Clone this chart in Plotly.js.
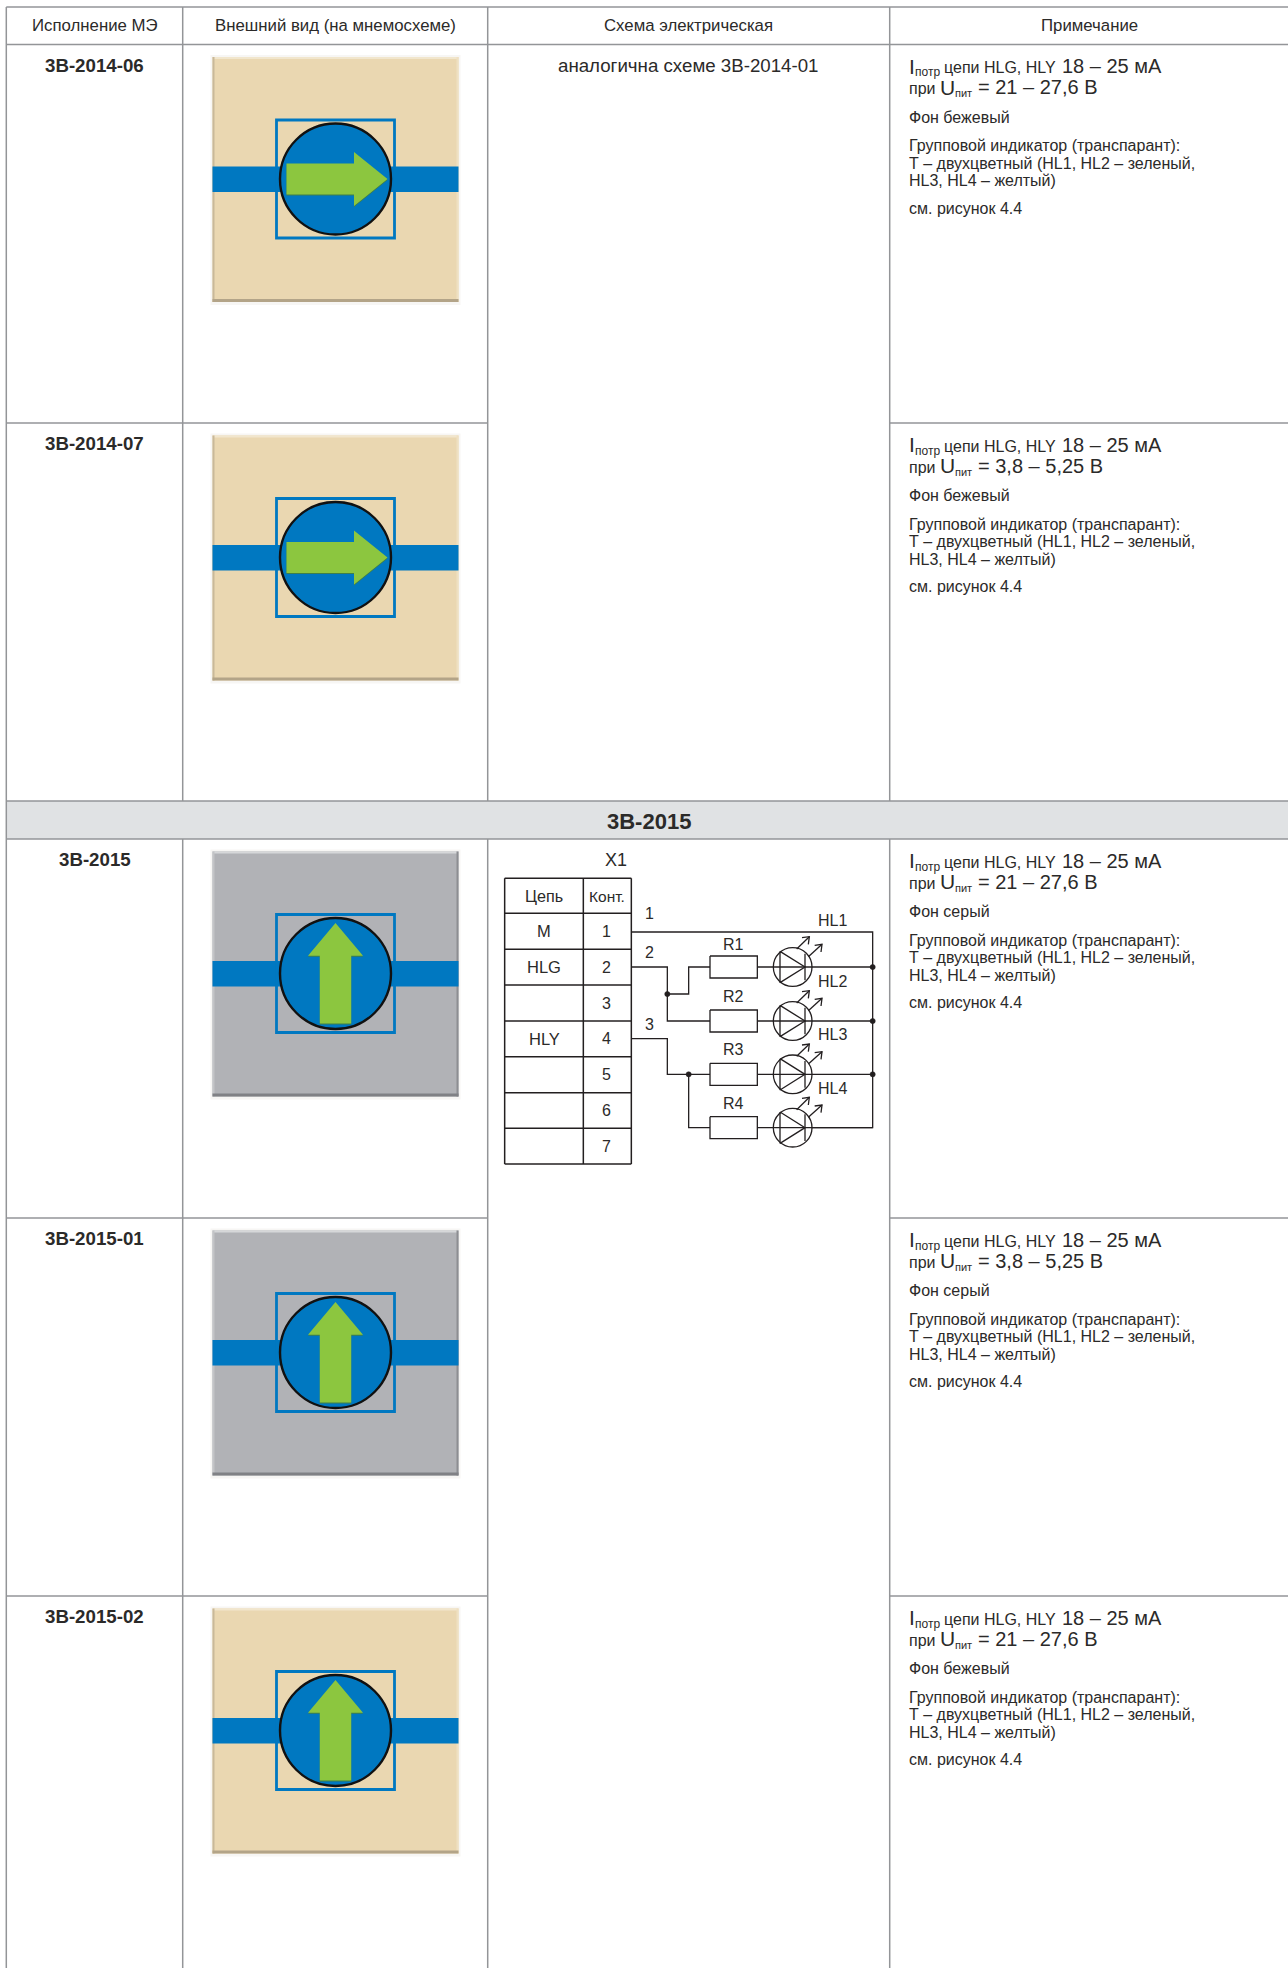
<!DOCTYPE html>
<html><head><meta charset="utf-8">
<script src="https://cdn.plot.ly/plotly-3.0.1.min.js"></script>
<style>html,body{margin:0;padding:0;background:#fff}#c{width:1288px;height:1968px}</style>
</head><body><div id="c"></div>
<script>
// ---- content ----
const headers = ["Исполнение МЭ","Внешний вид (на мнемосхеме)","Схема электрическая","Примечание"];
const rowLabels = ["3В-2014-06","3В-2014-07","3В-2015","3В-2015-01","3В-2015-02"];
const rowBackgrounds = ["Фон бежевый","Фон бежевый","Фон серый","Фон серый","Фон бежевый"];
const rowArrows = ["right","right","up","up","up"];
const rowSupplies = ["21 – 27,6 В","3,8 – 5,25 В","21 – 27,6 В","3,8 – 5,25 В","21 – 27,6 В"];
const sectionTitle = "3В-2015";
const sameSchemeNote = "аналогична схеме 3В-2014-01";
const connectorName = "X1";
const connectorHead = ["Цепь","Конт."];
const connectorNets = ["M","HLG","","HLY","","",""];
const connectorPins = ["1","2","3","4","5","6","7"];
const wireNumbers = ["1","2","3"];
const resistors = ["R1","R2","R3","R4"];
const leds = ["HL1","HL2","HL3","HL4"];
const groupNote = ["Групповой индикатор (транспарант):","Т – двухцветный (HL1, HL2 – зеленый,","HL3, HL4 – желтый)"];
const figureNote = "см. рисунок 4.4";

// ---- page geometry ----
const W=1288,H=1968;
const colX=[6.3,182.7,487.7,889.7,W];
const topY=7, headY=44.5, rowTops=[44.5,423,839,1218,1596], secTop=801, secBot=839;
const GRID="#939598", TXT="#2b2a29", LINE="#231f20", FONT="Liberation Sans, Arial, sans-serif";
const BLUE="#0078c1", GREEN="#8cc63f";
const PAL={beige:{f:"#ead7b1",b:"#b3a488",s:"#c9b899",t:"#f1e6cd",r:"#efe0c2"},gray:{f:"#b1b2b6",b:"#808185",s:"#c3c4c7",t:"#d6d7d9",r:"#8d8e92"}};

const shapes=[],ann=[],traces=[];
function rect(x0,y0,x1,y1,fill,line,lw){shapes.push({type:"rect",xref:"x",yref:"y",x0,y0,x1,y1,fillcolor:fill||"rgba(0,0,0,0)",line:{color:line||"rgba(0,0,0,0)",width:lw||0},layer:"below"});}
function circle(cx,cy,r,fill,line,lw,layer){shapes.push({type:"circle",xref:"x",yref:"y",x0:cx-r,y0:cy-r,x1:cx+r,y1:cy+r,fillcolor:fill||"rgba(0,0,0,0)",line:{color:line,width:lw},layer:layer||"below"});}
function poly(pts,fill,line,lw){shapes.push({type:"path",xref:"x",yref:"y",path:"M"+pts.map(p=>p[0]+","+p[1]).join("L")+"Z",fillcolor:fill,line:{color:line||"rgba(0,0,0,0)",width:lw||0},layer:"below"});}
function text(x,y,t,size,anchor,opts){ann.push(Object.assign({x,y,xref:"x",yref:"y",text:t,showarrow:false,xanchor:anchor||"center",yanchor:"middle",borderpad:0,font:{family:FONT,size,color:TXT}},opts||{}));}
function lines(segs,color,width){const xs=[],ys=[];segs.forEach(s=>{s.forEach(p=>{xs.push(p[0]);ys.push(p[1]);});xs.push(null);ys.push(null);});
  traces.push({type:"scatter",mode:"lines",x:xs,y:ys,line:{color,width,shape:"linear"},hoverinfo:"skip",showlegend:false,connectgaps:false});}
const ctx=document.createElement("canvas").getContext("2d");
function measure(s,size){ctx.font=size+'px "Liberation Sans"';return ctx.measureText(s).width;}
// a line of mixed-size runs on one baseline: [string,size,baselineShift]
function runs(x,base,list){list.forEach(([s,size,dy])=>{
  const lead=s.length-s.trimStart().length; x+=lead*measure(" ",size);
  const body=s.trimStart();
  text(x,base+(dy||0)-0.33*size,body.trimEnd(),size,"left");
  x+=measure(body,size);
});}

// ---- table grid ----
rect(colX[0],secTop,W,secBot,"#e0e2e4");
lines([
 [[colX[0],topY],[W,topY]],[[colX[0],headY],[W,headY]],[[colX[0],secTop],[W,secTop]],[[colX[0],secBot],[W,secBot]],
 [[colX[0],rowTops[1]],[colX[2],rowTops[1]]],[[colX[3],rowTops[1]],[W,rowTops[1]]],
 [[colX[0],rowTops[3]],[colX[2],rowTops[3]]],[[colX[3],rowTops[3]],[W,rowTops[3]]],
 [[colX[0],rowTops[4]],[colX[2],rowTops[4]]],[[colX[3],rowTops[4]],[W,rowTops[4]]],
 [[colX[0],topY],[colX[0],H]],[[colX[1],topY],[colX[1],secTop]],[[colX[2],topY],[colX[2],secTop]],[[colX[3],topY],[colX[3],secTop]],
 [[colX[1],secBot],[colX[1],H]],[[colX[2],secBot],[colX[2],H]],[[colX[3],secBot],[colX[3],H]]
],GRID,1.5);

headers.forEach((h,i)=>text((colX[i]+colX[i+1])/2+(i===3?1:0),25.5,h,16.8));
text(649,821,"<b>"+sectionTitle+"</b>",22);
text(688,65.5,sameSchemeNote,18.7);

// ---- rows ----
const BIG=20,SMALL=12,BASE=16;
rowLabels.forEach((lab,i)=>{
 const t=rowTops[i];
 text(94.5,t+20.5,"<b>"+lab+"</b>",18.7);
 const p=PAL[rowBackgrounds[i].includes("беж")?"beige":"gray"];
 const L=212.5,R=458.5,T=t+12.5,B=T+245,cx=335.5,cy=T+122;
 rect(L-2,T-2,R+2,B+3,"#f7f6f4");
 rect(L,T,R,B,p.f);
 rect(L,T,R,T+2,p.t);
 rect(L,T,L+2,B,p.s);
 rect(R-2,T,R,B,p.r);
 rect(L,B-3,R,B,p.b);
 rect(L,cy-12.5,R,cy+13,BLUE);
 rect(cx-59,cy-59,cx+59,cy+59,null,BLUE,2.8);
 circle(cx,cy,55.5,BLUE,"#111",2.4);
 const arrow = rowArrows[i]==="right"
  ? [[-49,-15.5],[18.5,-15.5],[18.5,-27],[52,0],[18.5,27],[18.5,15.5],[-49,15.5]]
  : [[0,-50.5],[27.5,-17.7],[15.7,-17.7],[15.7,50],[-15.7,50],[-15.7,-17.7],[-27.5,-17.7]];
 poly(arrow.map(a=>[cx+a[0],cy+a[1]+1]),"#3f7f4a");
 poly(arrow.map(a=>[cx+a[0],cy+a[1]]),GREEN);
 const X=908;
 runs(X,t+28.5,[["I",BIG+1],["потр",SMALL,3],[" цепи HLG, HLY",BASE],[" 18 – 25 мА",BIG]]);
 runs(X,t+49.5,[["при ",BASE],["U",BIG+1],["пит",SMALL-1,3],[" = "+rowSupplies[i],BIG]]);
 text(X,t+72.7,rowBackgrounds[i],BASE,"left");
 groupNote.forEach((g,k)=>text(X,t+101.2+k*17.4,g,BASE,"left"));
 text(X,t+163.8,figureNote,BASE,"left");
});

// ---- schematic ----
const zx=v=>490+v/3, zy=v=>830+v/3;
const tabX=[44,280,424], tabY=[145,250,358,465,573,680,788,895,1002];
text(zx(377),zy(90),connectorName,18);
const tabSegs=[];
tabY.forEach(y=>tabSegs.push([[zx(44),zy(y)],[zx(424),zy(y)]]));
tabX.forEach(x=>tabSegs.push([[zx(x),zy(145)],[zx(x),zy(1002)]]));
lines(tabSegs,LINE,1.5);
text(zx(162),zy(198),connectorHead[0],16.2);
text(zx(352),zy(198),connectorHead[1],15.5);
connectorNets.forEach((n,i)=>{ if(n) text(zx(162),zy((tabY[i+1]+tabY[i+2])/2),n,16.5); });
connectorPins.forEach((n,i)=>text(zx(350),zy((tabY[i+1]+tabY[i+2])/2),n,16));
[[479,250],[479,368],[479,582]].forEach((p,i)=>text(zx(p[0]),zy(p[1]),wireNumbers[i],16));
const ledY=[411,573,733,893], hlY=[270,455,613,775], rY=[342,500,658,820];
const wire=[
 [[424,306],[1148,306],[1148,893],[964,893]],
 [[424,411],[532,411],[532,573],[660,573]],
 [[532,492],[596,492],[596,411],[660,411]],
 [[424,626],[532,626],[532,733],[660,733]],
 [[596,733],[596,893],[660,893]]
];
ledY.forEach((y,i)=>{
 wire.push([[802,y],[1148,y]]);
 wire.push([[660,y-33],[802,y-33],[802,y+33],[660,y+33],[660,y-33]]);
 wire.push([[870,y-47],[945,y],[870,y+47],[870,y-47]]);
 wire.push([[945,y-40],[945,y+40]]);
 wire.push([[920,y-54],[958,y-91]]); wire.push([[936,y-88],[958,y-91],[955,y-68]]);
 wire.push([[955,y-31],[996,y-68]]); wire.push([[974,y-65],[996,y-68],[993,y-45]]);
 circle(zx(908),zy(y),58/3,null,LINE,1.3);
 text(zx(1027),zy(hlY[i]),leds[i],16);
 text(zx(730),zy(rY[i]),resistors[i],16);
});
lines(wire.map(s=>s.map(p=>[zx(p[0]),zy(p[1])])),LINE,1.3);
[[1148,411],[1148,573],[1148,733],[532,492],[596,733]].forEach(p=>circle(zx(p[0]),zy(p[1]),2.6,LINE,LINE,0.5));

Plotly.newPlot("c",traces,{
 width:W,height:H,margin:{l:0,r:0,t:0,b:0,pad:0},showlegend:false,
 paper_bgcolor:"#fff",plot_bgcolor:"#fff",
 xaxis:{range:[0,W],visible:false,fixedrange:true},
 yaxis:{range:[H,0],visible:false,fixedrange:true},
 shapes,annotations:ann
},{displayModeBar:false,staticPlot:true});
</script></body></html>
